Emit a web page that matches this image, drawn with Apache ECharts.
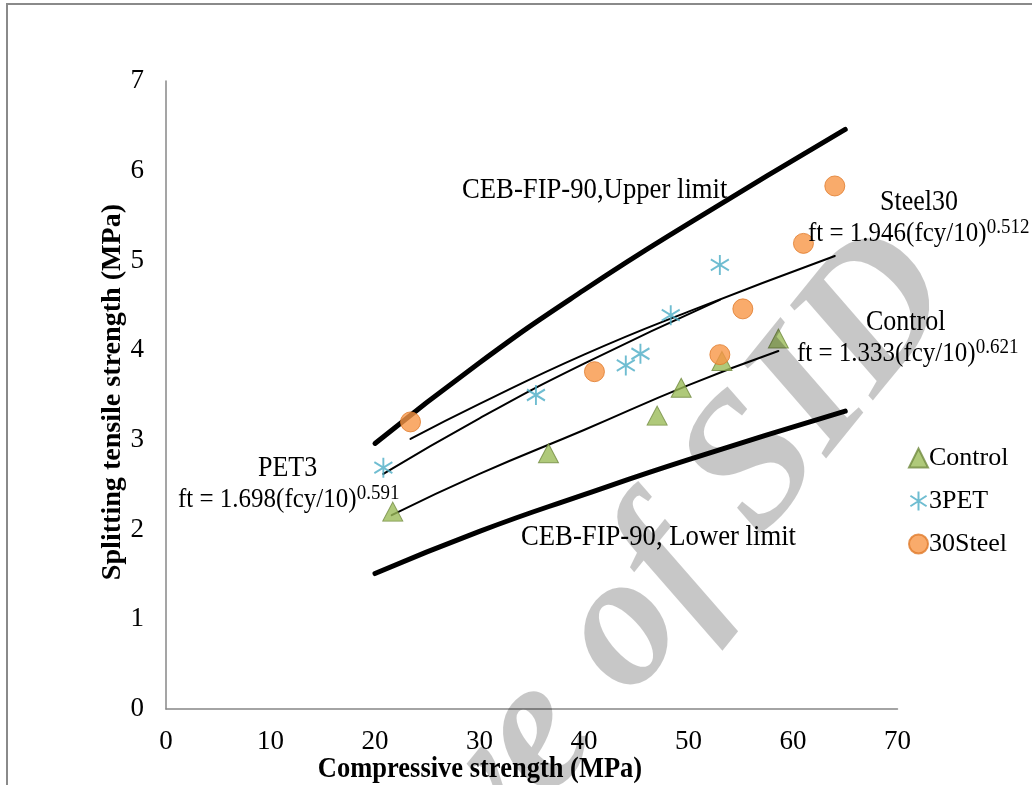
<!DOCTYPE html>
<html>
<head>
<meta charset="utf-8">
<script src="https://cdn.jsdelivr.net/npm/echarts@6/dist/echarts.min.js"></script>
<style>
  html, body { margin: 0; padding: 0; background: #fff; }
  #chart { width: 1032px; height: 785px; }
</style>
</head>
<body>
<div id="chart"></div>
<script>
// Measured splitting tensile strength vs compressive strength (MPa)
const controlX = [21.7, 36.6, 47.0, 49.3, 53.2, 58.6];
const controlY = [2.20, 2.85, 3.27, 3.58, 3.88, 4.13];
const petX = [20.8, 35.4, 44.0, 45.4, 48.3, 53.0];
const petY = [2.69, 3.50, 3.83, 3.96, 4.39, 4.95];
const steelX = [23.4, 41.0, 53.0, 55.2, 61.0, 64.0];
const steelY = [3.20, 3.76, 3.95, 4.46, 5.19, 5.83];

// CEB-FIP-90 bounds
const upperX = [20, 30, 40, 50, 65];
const upperY = [2.96, 3.86, 4.67, 5.41, 6.46];
const lowerX = [20, 30, 40, 50, 65];
const lowerY = [1.51, 1.98, 2.39, 2.78, 3.32];

// Power-law trend lines
const steelFitX = [23.4, 30, 40, 50, 64];
const steelFitY = [3.01, 3.40, 3.95, 4.43, 5.05];
const petFitX = [20.8, 30, 40, 53];
const petFitY = [2.62, 3.24, 3.85, 4.56];
const controlFitX = [21.6, 30, 40, 50, 58.6];
const controlFitY = [2.16, 2.62, 3.11, 3.61, 3.99];

const xTicks = [0, 10, 20, 30, 40, 50, 60, 70];
const yTicks = [0, 1, 2, 3, 4, 5, 6, 7];

const seriesNames = ['Control', '3PET', '30Steel'];

const pairs = (xs, ys) => xs.map((x, i) => [x, ys[i]]);
const SERIF = '"Liberation Serif", "DejaVu Serif", serif';
const starPath = 'path://M10 0 L10 20 M1.5 4.5 L18.5 15.5 M1.5 15.5 L18.5 4.5';
const TALL = 1.12;

const chart = echarts.init(document.getElementById('chart'), null, { renderer: 'canvas' });

function curve(xs, ys, width) {
  return {
    type: 'line',
    data: pairs(xs, ys),
    smooth: true,
    symbol: 'none',
    silent: true,
    lineStyle: { color: '#000', width: width, cap: 'round' },
    z: 2
  };
}

function eqText(x, y, base, sup) {
  return {
    type: 'text',
    x: x, y: y,
    scaleY: TALL,
    z: 10,
    style: {
      text: '{b|' + base + '}{s|' + sup + '}',
      align: 'left',
      verticalAlign: 'middle',
      rich: {
        b: { fontFamily: SERIF, fontSize: 25, fill: '#000', lineHeight: 30 },
        s: { fontFamily: SERIF, fontSize: 19, fill: '#000', lineHeight: 30, verticalAlign: 'top' }
      }
    }
  };
}

function plainText(x, y, text, size) {
  return {
    type: 'text',
    x: x, y: y,
    scaleY: TALL,
    z: 10,
    style: {
      text: text,
      fontFamily: SERIF,
      fontSize: size || 25,
      fill: '#000',
      align: 'left',
      verticalAlign: 'middle'
    }
  };
}

const option = {
  animation: false,
  backgroundColor: '#fff',
  grid: { left: 166, right: 134.5, top: 81, bottom: 76, containLabel: false },
  xAxis: {
    type: 'value',
    min: xTicks[0],
    max: xTicks[xTicks.length - 1],
    interval: 10,
    axisLine: { show: true, lineStyle: { color: '#878787', width: 1.5 } },
    axisTick: { show: false },
    splitLine: { show: false },
    axisLabel: { fontFamily: SERIF, fontSize: 27, color: '#000', margin: 19 }
  },
  yAxis: {
    type: 'value',
    min: yTicks[0],
    max: yTicks[yTicks.length - 1],
    interval: 1,
    axisLine: { show: true, lineStyle: { color: '#878787', width: 1.5 } },
    axisTick: { show: false },
    splitLine: { show: false },
    axisLabel: { fontFamily: SERIF, fontSize: 27, color: '#000', margin: 22 }
  },
  legend: {
    data: seriesNames,
    orient: 'vertical',
    left: 903,
    top: 440,
    itemWidth: 19,
    itemHeight: 19,
    itemGap: 17,
    textStyle: { fontFamily: SERIF, fontSize: 26, color: '#000', padding: [0, 0, 0, -4] }
  },
  series: [
    curve(upperX, upperY, 5),
    curve(lowerX, lowerY, 5),
    curve(steelFitX, steelFitY, 2),
    curve(petFitX, petFitY, 2),
    curve(controlFitX, controlFitY, 2),
    {
      name: seriesNames[0],
      type: 'scatter',
      data: pairs(controlX, controlY),
      symbol: 'triangle',
      symbolSize: [20, 19],
      itemStyle: { color: '#9BBB59', borderColor: '#71893F', borderWidth: 1 },
      z: 5
    },
    {
      name: seriesNames[1],
      type: 'scatter',
      data: pairs(petX, petY),
      symbol: starPath,
      symbolSize: [18, 20],
      itemStyle: { color: 'rgba(0,0,0,0)', borderColor: '#4BACC6', borderWidth: 2 },
      z: 5
    },
    {
      name: seriesNames[2],
      type: 'scatter',
      data: pairs(steelX, steelY),
      symbol: 'circle',
      symbolSize: 20,
      itemStyle: { color: '#F79646', borderColor: '#E07B2A', borderWidth: 1 },
      z: 5
    }
  ],
  graphic: [
    // outer frame
    {
      type: 'polyline',
      shape: { points: [[7, 785], [7, 4], [1032, 4]] },
      style: { stroke: '#8a8a8a', lineWidth: 2, fill: null },
      silent: true
    },
    // axis titles
    {
      type: 'text',
      x: 480, y: 769,
      scaleY: TALL,
      style: {
        text: 'Compressive strength (MPa)',
        fontFamily: SERIF, fontSize: 26.5, fontWeight: 'bold', fill: '#000',
        align: 'center', verticalAlign: 'middle'
      }
    },
    {
      type: 'text',
      x: 113, y: 392,
      rotation: Math.PI / 2,
      scaleX: 1.06,
      style: {
        text: 'Splitting tensile strength (MPa)',
        fontFamily: SERIF, fontSize: 26.5, fontWeight: 'bold', fill: '#000',
        align: 'center', verticalAlign: 'middle'
      }
    },
    plainText(462, 190, 'CEB-FIP-90,Upper limit', 26.7),
    plainText(521, 537, 'CEB-FIP-90, Lower limit', 26.7),
    plainText(880, 202, 'Steel30', 26),
    eqText(808, 234, 'ft = 1.946(fcy/10)', '0.512'),
    plainText(866, 322, 'Control', 26),
    eqText(797, 354, 'ft = 1.333(fcy/10)', '0.621'),
    plainText(258, 468, 'PET3', 26),
    eqText(178, 500, 'ft = 1.698(fcy/10)', '0.591'),
    // diagonal watermark
    {
      type: 'text',
      x: 922, y: 262,
      rotation: Math.PI * 51 / 180,
      silent: true,
      z: 100,
      style: {
        text: 'Archive of SID',
        fontFamily: SERIF, fontSize: 190, fontWeight: 'bold', fontStyle: 'italic',
        fill: 'rgba(0,0,0,0.22)',
        align: 'right', verticalAlign: 'middle'
      }
    }
  ]
};

chart.setOption(option);
</script>
</body>
</html>
